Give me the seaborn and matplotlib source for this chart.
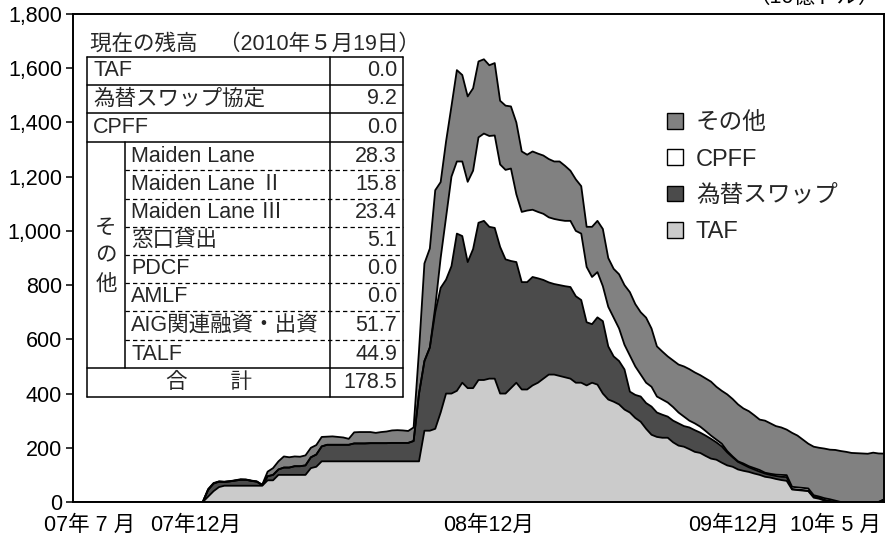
import numpy as np
import matplotlib
matplotlib.use("Agg")
import matplotlib.pyplot as plt
import seaborn as sns
from matplotlib.patches import Patch
from matplotlib.ticker import FuncFormatter

# Weekly outstanding amounts, 2007-07-04 .. 2010-05-19 (10億ドル)
taf = [0] * 25 + [
    20, 40, 55, 60, 60, 60, 60, 60, 60, 60, 60,
    80, 80, 100, 100, 100, 100, 100, 100, 125, 130,
] + [150] * 19 + [
    263, 263, 270, 330, 400,
    400, 410, 440, 420, 420, 450, 450, 455, 455, 400,
    400, 420, 440, 415, 415, 430, 440, 455, 470, 470,
    465, 460, 455, 440, 440, 430, 440, 433, 400, 378,
    370, 360, 341, 330, 310, 296, 270, 248, 240, 237,
    237, 220, 208, 204, 195, 185, 181, 170, 160, 156,
    145, 135, 130, 120, 115, 111, 105, 100, 93, 90,
    85, 81, 78, 46, 44, 42, 40, 16, 12, 5,
    2, 0, 0, 0, 0, 0, 0, 0, 0, 0, 0,
]

swap = [0] * 25 + [
    25, 28, 20, 14, 16, 19, 22, 22, 18, 15, 2,
    15, 20, 20, 27, 27, 32, 32, 35, 40, 45,
    55, 61, 61, 61, 61, 61, 66, 66, 66, 67, 67, 67, 67, 68, 68, 68, 68, 75, 250,
    257, 307, 430, 460, 420,
    470, 580, 541, 465, 513, 580, 587, 560, 556, 541,
    495, 469, 445, 396, 396, 400, 385, 364, 340, 334,
    335, 336, 338, 319, 305, 233, 216, 248, 267, 196,
    167, 160, 148, 77, 85, 93, 95, 104, 90, 85,
    78, 80, 82, 76, 80, 80, 75, 75, 73, 64,
    60, 48, 35, 28, 23, 17, 15, 12, 12, 10,
    11, 12, 14, 2, 2, 2, 2, 4, 4, 3,
    2, 1, 0, 0, 0, 0, 0, 0, 0, 0, 9.2,
]

cpff = [0] * 67 + [
    20, 110, 230,
    330, 266, 275, 296, 289, 315, 322, 335, 341, 304,
    330, 341, 250, 259, 264, 248, 245, 244, 240, 240,
    240, 241, 244, 241, 245, 204, 174, 167, 129, 146,
    143, 120, 91, 133, 105, 81, 75, 73, 59, 56,
    52, 50, 40, 35, 25, 25, 22, 17, 12, 10,
    10, 5, 3, 2, 4, 4, 5, 6, 3, 4,
    5, 7, 7, 8, 8, 8, 8, 5, 4, 6,
    6, 4, 0, 0, 0, 0, 0, 0, 0, 0, 0,
]

other = [0] * 25 + [
    3, 2, 1, 1, 1, 1, 2, 1, 1, 1, 2,
    17, 25, 30, 41, 38, 36, 35, 37, 35, 35,
    35, 30, 31, 29, 27, 22, 41, 42, 42, 41, 38, 41, 43, 46, 47, 46, 44, 50, 160,
    360, 365, 430, 280, 280,
    260, 337, 319, 315, 304, 280, 274, 261, 267, 235,
    237, 229, 265, 223, 206, 215, 215, 215, 215, 212,
    216, 203, 185, 190, 175, 148, 185, 189, 211, 180,
    180, 200, 220, 234, 230, 230, 240, 215, 185, 177,
    170, 172, 177, 185, 190, 188, 190, 194, 199, 195,
    195, 209, 212, 210, 203, 203, 195, 186, 192, 186,
    179, 175, 168, 199, 191, 178, 165, 179, 180, 183,
    183, 187, 188, 185, 181, 180, 179, 178, 182, 179, 169.3,
]

series_names = ["TAF", "為替スワップ", "CPFF", "その他"]
series_colors = ["#cbcbcb", "#4b4b4b", "#ffffff", "#818181"]

tick_labels = ["07年 7 月", "07年12月", "08年12月", "09年12月", "10年 5 月"]
tick_pos = [3.1, 22.6, 76.9, 122.2, 141.1]

# Balances as of 2010-05-19
table_title = "現在の残高　（2010年５月19日）"
top_rows = [("TAF", 0.0), ("為替スワップ協定", 9.2), ("CPFF", 0.0)]
other_rows = [("Maiden Lane", 28.3), ("Maiden Lane Ⅱ", 15.8),
              ("Maiden Lane Ⅲ", 23.4), ("窓口貸出", 5.1), ("PDCF", 0.0),
              ("AMLF", 0.0), ("AIG関連融資・出資", 51.7), ("TALF", 44.9)]
total_value = 178.5

sns.set_theme(style="white")
plt.rcParams["font.family"] = ["Liberation Sans", "Noto Sans CJK JP"]

W, H = 888, 541
fig = plt.figure(figsize=(W / 100, H / 100), dpi=100)
ax = fig.add_axes([73 / W, 1 - 502 / H, (884 - 73) / W, (502 - 14) / H])

x = np.arange(len(taf))
layers = np.vstack([taf, swap, cpff, other]).astype(float)
tops = np.cumsum(layers, axis=0)
bottoms = np.vstack([np.zeros(len(x)), tops[:-1]])

for lo, hi, col in zip(bottoms, tops, series_colors):
    ax.fill_between(x, lo, hi, facecolor=col, edgecolor="none", zorder=2)
for hi in tops:
    sns.lineplot(x=x, y=hi, ax=ax, color="black", linewidth=1.3, zorder=3)

ax.set_xlim(0, len(x) - 1)
ax.set_ylim(0, 1800)
ax.set_yticks(np.arange(0, 1801, 200))
ax.yaxis.set_major_formatter(FuncFormatter(lambda v, p: f"{int(v):,}"))
ax.set_xticks(tick_pos)
ax.set_xticklabels(tick_labels)
ax.tick_params(axis="y", which="major", direction="out", length=5, width=1.1,
               color="black", pad=3, labelsize=15.5, left=True)
ax.tick_params(axis="x", length=0, pad=9, labelsize=15.5)
for s in ax.spines.values():
    s.set_color("black")
    s.set_linewidth(1.4)
ax.set_xlabel("")
ax.set_ylabel("")
for t in ax.get_xticklabels() + ax.get_yticklabels():
    t.set_color("black")

fig.text(880 / W, 1 - 8 / H, "（10億ドル）", ha="right", va="bottom",
         fontsize=15.5, color="black")

# legend, top layer first
handles = [Patch(facecolor=c, edgecolor="black", linewidth=1.0)
           for c in series_colors[::-1]]
fig.legend(handles, series_names[::-1], loc="upper left",
           bbox_to_anchor=(658 / W, 1 - 103 / H), frameon=False,
           fontsize=17, handlelength=0.65, handleheight=0.65,
           handletextpad=0.55, labelspacing=0.6, borderaxespad=0)

# balance table drawn in pixel coordinates
tab = fig.add_axes([0, 0, 1, 1], zorder=5)
tab.set_xlim(0, W)
tab.set_ylim(H, 0)
tab.axis("off")
tab.patch.set_visible(False)

xl, xg, xv, xr = 87, 125, 330, 403
ys = [57, 85, 113, 142, 170, 199, 227, 255, 283, 311, 340, 368, 397]
fs = 15.5
lw = 1.1

tab.fill_between([xl, xr], ys[0], ys[-1], color="white", zorder=0)
tab.text(90, 44, table_title, fontsize=fs, va="center", ha="left")

for y in [ys[0], ys[1], ys[2], ys[3], ys[11], ys[12]]:
    tab.plot([xl, xr], [y, y], color="black", lw=lw)
for y in ys[4:11]:
    tab.plot([xg, xr], [y, y], color="black", lw=0.9, ls=(0, (3.5, 2.5)))
tab.plot([xl, xl], [ys[0], ys[-1]], color="black", lw=lw)
tab.plot([xr, xr], [ys[0], ys[-1]], color="black", lw=lw)
tab.plot([xv, xv], [ys[0], ys[-1]], color="black", lw=lw)
tab.plot([xg, xg], [ys[3], ys[11]], color="black", lw=lw)

for k, (name, val) in enumerate(top_rows):
    yc = (ys[k] + ys[k + 1]) / 2
    tab.text(93, yc, name, fontsize=fs, va="center", ha="left")
    tab.text(xr - 6, yc, f"{val:.1f}", fontsize=fs, va="center", ha="right")
for k, (name, val) in enumerate(other_rows):
    yc = (ys[k + 3] + ys[k + 4]) / 2
    tab.text(xg + 6, yc, name, fontsize=fs, va="center", ha="left")
    tab.text(xr - 6, yc, f"{val:.1f}", fontsize=fs, va="center", ha="right")
for ch, yc in zip("その他", [228, 256, 284]):
    tab.text((xl + xg) / 2, yc, ch, fontsize=fs, va="center", ha="center")
yc = (ys[11] + ys[12]) / 2
tab.text((xl + xv) / 2, yc, "合　　計", fontsize=fs, va="center", ha="center")
tab.text(xr - 6, yc, f"{total_value:.1f}", fontsize=fs, va="center", ha="right")

fig.savefig("out.png", dpi=100)
